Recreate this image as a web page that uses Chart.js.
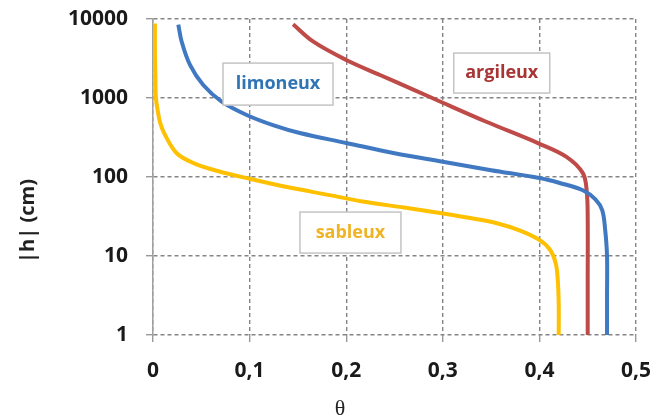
<!DOCTYPE html>
<html>
<head>
<meta charset="utf-8">
<script src="https://cdn.jsdelivr.net/npm/chart.js@4.4.0/dist/chart.umd.min.js"></script>
<style>
    html, body { margin: 0; padding: 0; background: #fff; }
</style>
</head>
<body>
<canvas id="chart" width="663" height="420"></canvas>
<script>
// tick values and labels
const xTickValues = [0, 0.1, 0.2, 0.3, 0.4, 0.5];
const xTickLabels = ['0', '0,1', '0,2', '0,3', '0,4', '0,5'];
const yTickValues = [1, 10, 100, 1000, 10000];
const yTickLabels = ['1', '10', '100', '1000', '10000'];

// sableux (sand)
const sableuxTheta = [0.002, 0.002, 0.0025, 0.003, 0.005, 0.0075, 0.0125, 0.0245, 0.042, 0.066, 0.1, 0.14, 0.183, 0.217, 0.26, 0.297, 0.33, 0.356, 0.38, 0.40, 0.411, 0.417, 0.419, 0.42, 0.42];
const sableuxH = [8800, 4000, 1800, 1000, 680, 480, 340, 200, 150, 120, 95, 74, 59, 49, 41, 35, 30, 26, 21, 16, 12, 8, 5, 2.5, 1];

// limoneux (silt)
const limoneuxTheta = [0.0262, 0.0297, 0.0383, 0.052, 0.0711, 0.097, 0.125, 0.152, 0.2, 0.25, 0.3, 0.35, 0.4, 0.421, 0.445, 0.458, 0.465, 0.468, 0.47, 0.47, 0.47];
const limoneuxH = [8500, 5160, 2620, 1460, 900, 610, 450, 360, 270, 200, 156, 122, 97, 84, 68, 52, 38, 22, 10, 3, 1];

// argileux (clay)
const argileuxTheta = [0.145, 0.166, 0.2, 0.235, 0.27, 0.3, 0.345, 0.399, 0.428, 0.445, 0.449, 0.45, 0.45, 0.45];
const argileuxH = [8570, 5160, 3030, 1955, 1270, 870, 500, 267, 180, 112, 66, 30, 5, 1];

const pts = (xs, ys) => xs.map((x, i) => ({ x: x, y: ys[i] }));

// text boxes, anchored at data coords
const boxLabels = [
    { text: 'limoneux', color: '#2F75B5', x: 0.1294, y: 1500, w: 110, h: 42 },
    { text: 'argileux', color: '#A83434', x: 0.361, y: 2070, w: 96, h: 40 },
    { text: 'sableux', color: '#F0B323', x: 0.2044, y: 19.8, w: 101, h: 41 }
];

const decorations = {
    id: 'decorations',
    afterDatasetsDraw(chart) {
        const ctx = chart.ctx;
        const xs = chart.scales.x, ys = chart.scales.y;
        ctx.save();
        boxLabels.forEach(b => {
            const cx = xs.getPixelForValue(b.x);
            const cy = ys.getPixelForValue(b.y);
            ctx.fillStyle = '#fff';
            ctx.fillRect(cx - b.w / 2, cy - b.h / 2, b.w, b.h);
            ctx.strokeStyle = '#c4c4c4';
            ctx.lineWidth = 1.5;
            ctx.strokeRect(cx - b.w / 2, cy - b.h / 2, b.w, b.h);
            ctx.fillStyle = b.color;
            ctx.font = 'bold 18px "Open Sans"';
            ctx.textAlign = 'center';
            ctx.textBaseline = 'middle';
            ctx.fillText(b.text, cx, cy);
        });

        // axis titles
        ctx.fillStyle = '#222';
        ctx.font = '22px "Liberation Serif"';
        ctx.textAlign = 'center';
        ctx.textBaseline = 'middle';
        ctx.fillText('θ', 340, 409);

        ctx.translate(28, 221);
        ctx.rotate(-Math.PI / 2);
        ctx.font = 'bold 20px "Open Sans"';
        ctx.fillText('|h| (cm)', 0, 0);
        ctx.restore();
    }
};

const lineStyle = { showLine: true, pointRadius: 0, borderWidth: 4, tension: 0.35, fill: false };

new Chart(document.getElementById('chart'), {
    type: 'scatter',
    data: {
        datasets: [
            Object.assign({ label: 'sableux', data: pts(sableuxTheta, sableuxH), borderColor: '#FFC000' }, lineStyle),
            Object.assign({ label: 'limoneux', data: pts(limoneuxTheta, limoneuxH), borderColor: '#4079C1' }, lineStyle),
            Object.assign({ label: 'argileux', data: pts(argileuxTheta, argileuxH), borderColor: '#BE4B48' }, lineStyle)
        ]
    },
    options: {
        responsive: false,
        animation: false,
        layout: { padding: { left: 0, right: 27, top: 19, bottom: 0 } },
        plugins: { legend: { display: false }, tooltip: { enabled: false } },
        scales: {
            x: {
                type: 'linear',
                min: 0,
                max: 0.5,
                afterBuildTicks: s => { s.ticks = xTickValues.map(v => ({ value: v })); },
                afterFit: s => { s.height = 85; s.paddingLeft = 0; s.paddingRight = 0; },
                ticks: {
                    callback: (v, i) => xTickLabels[i],
                    color: '#1a1a1a',
                    font: { family: 'Open Sans', size: 21, weight: 'bold' },
                    padding: 16,
                    maxRotation: 0
                },
                grid: { color: '#858585', lineWidth: 1.4, tickLength: 7, tickColor: '#999' },
                border: { display: false, dash: [4, 3] }
            },
            y: {
                type: 'logarithmic',
                min: 1,
                max: 10000,
                afterBuildTicks: s => { s.ticks = yTickValues.map(v => ({ value: v })); },
                afterFit: s => { s.width = 153; s.paddingTop = 0; s.paddingBottom = 0; },
                ticks: {
                    callback: (v, i) => yTickLabels[i],
                    color: '#1a1a1a',
                    font: { family: 'Open Sans', size: 21, weight: 'bold' },
                    padding: 18
                },
                grid: { color: '#858585', lineWidth: 1.4, tickLength: 7, tickColor: '#999' },
                border: { display: true, color: '#a0a0a0', width: 1.5, dash: [4, 3] }
            }
        }
    },
    plugins: [decorations]
});
</script>
</body>
</html>
